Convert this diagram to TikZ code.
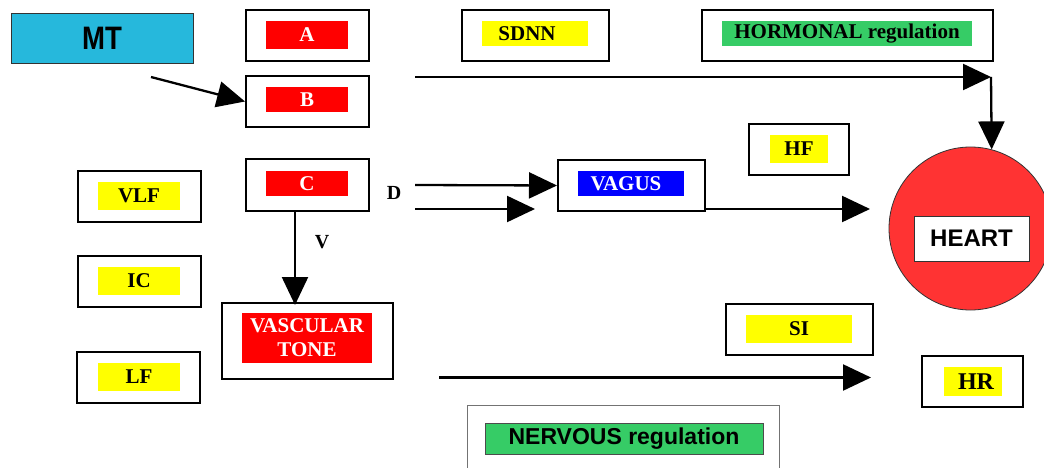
\documentclass[tikz,border=0pt]{standalone}
\usepackage{fontspec}
\setmainfont{Liberation Serif}
\newfontfamily\arialf{Liberation Sans}
\usetikzlibrary{arrows.meta}
\definecolor{mtcyan}{RGB}{38,184,220}
\definecolor{hgreen}{RGB}{54,204,102}
\definecolor{hred}{RGB}{255,51,51}
\definecolor{pred}{RGB}{255,0,0}
\definecolor{pyellow}{RGB}{255,255,0}
\definecolor{pblue}{RGB}{0,0,255}
\tikzset{
  ob/.style 2 args={draw=black, line width=2pt, inner sep=0pt, minimum width=#1, minimum height=#2},
  lab/.style 2 args={inner sep=0pt, minimum width=#1, minimum height=#2, font=\bfseries\fontsize{21}{24}\selectfont},
  redlab/.style 2 args={lab={#1}{#2}, fill=pred, text=white},
  yellab/.style 2 args={lab={#1}{#2}, fill=pyellow, text=black},
  arr/.style={line width=2.3pt, -{Triangle[length=28pt,width=26pt]}},
  plain/.style={font=\bfseries\fontsize{20}{24}\selectfont, inner sep=0pt}
}
\begin{document}
\begin{tikzpicture}[x=1pt,y=-1pt]
\clip (0,0) rectangle (1044,468);
\fill[white] (0,0) rectangle (1044,468);

% MT
\node[draw=black!80, line width=0.8pt, fill=mtcyan, minimum width=182pt, minimum height=50pt, inner sep=0pt,
      font=\arialf\bfseries\fontsize{29}{32}\selectfont] (MT) at (102,38) {\scalebox{0.95}[1.12]{MT}};

% outer boxes
\node[ob={123pt}{51pt}] (A) at (307.5,35.5) {};
\node[ob={123pt}{51pt}] (B) at (307.5,101.5) {};
\node[ob={123pt}{52pt}] (C) at (307.5,185) {};
\node[ob={147pt}{51pt}] (SDNN) at (535.5,35.5) {};
\node[ob={291pt}{51pt}] (HORM) at (847.5,35.5) {};
\node[ob={100pt}{51pt}] (HF) at (799,149.5) {};
\node[ob={147pt}{51pt}] (VAGUS) at (631.5,185.5) {};
\node[ob={123pt}{51pt}] (VLF) at (139.5,196.5) {};
\node[ob={123pt}{51pt}] (IC) at (139.5,281.5) {};
\node[ob={123pt}{51pt}] (LF) at (138.5,377.5) {};
\node[ob={171pt}{76pt}] (VASC) at (307.5,341) {};
\node[ob={147pt}{51pt}] (SI) at (799.5,329.5) {};
\node[ob={101pt}{51pt}] (HR) at (972.5,381.5) {};
\node[draw=black!55, line width=1pt, inner sep=0pt, minimum width=312pt, minimum height=90pt] (NERV) at (623,450) {};

% heart
\node[circle, draw=black!80, line width=0.8pt, fill=hred, minimum size=163pt, inner sep=0pt] (heart) at (970.5,228.5) {};
\node[draw=black!80, line width=0.8pt, fill=white, minimum width=115pt, minimum height=45pt, inner sep=0pt,
      font=\arialf\bfseries\fontsize{24}{28}\selectfont] (heartlab) at (971.5,238.5) {HEART};

% inner labels
\node[redlab={82pt}{28pt}] (Al) at (307,35) {A};
\node[redlab={82pt}{25pt}] (Bl) at (307,99.5) {B};
\node[redlab={82pt}{25pt}] (Cl) at (307,183.5) {C};
\node[yellab={106pt}{25pt}] (SDNNl) at (535,33.5) {\hspace*{-16pt}SDNN};
\node[lab={250pt}{25pt}, fill=hgreen] (HORMl) at (847,33.5) {HORMONAL regulation};
\node[yellab={58pt}{28pt}] (HFl) at (799,149) {HF};
\node[lab={106pt}{25pt}, fill=pblue, text=white] (VAGUSl) at (631,183.5) {\hspace*{-10pt}VAGUS};
\node[yellab={82pt}{28pt}] (VLFl) at (139,196) {VLF};
\node[yellab={82pt}{28pt}] (ICl) at (139,281) {IC};
\node[yellab={82pt}{28pt}] (LFl) at (139,377) {LF};
\node[redlab={130pt}{50pt}, align=center] (VASCl) at (307,338) {VASCULAR\\TONE};
\node[yellab={106pt}{28pt}] (SIl) at (799,329) {SI};
\node[yellab={58pt}{29pt}, font=\bfseries\fontsize{24}{28}\selectfont] (HRl) at (973,381.5) {\hspace*{6pt}HR};
\node[draw=black!70, line width=0.8pt, fill=hgreen, inner sep=0pt, minimum width=278pt, minimum height=31pt,
      font=\arialf\bfseries\fontsize{23}{26}\selectfont] (NERVl) at (624,438.5) {NERVOUS regulation};

% free labels
\node[plain] (Dl) at (394,193) {D};
\node[plain] (Vl) at (322,242) {V};

% connector end points
\coordinate (mtout) at (151,77);
\coordinate (h1) at (415,77);
\coordinate (h2) at (991,77);
\coordinate (d1) at (415,185);
\coordinate (d2a) at (415,209);
\coordinate (d2b) at (535,209);
\coordinate (v1) at (705,209);
\coordinate (v2) at (870,209);
\coordinate (c1) at (295,211);
\coordinate (c2) at (295,305);
\coordinate (l1) at (439,377.5);
\coordinate (l2) at (871,377.5);

% connectors
\draw[arr] (mtout) -- (B.west);
\draw[arr] (h1) -- (h2);
\draw[arr] (h2) -- (heart.75.4);
\draw[arr] (d1) -- (VAGUS.west);
\draw[arr] (d2a) -- (d2b);
\draw[arr] (v1) -- (v2);
\draw[arr] (c1) -- (c2);
\draw[arr] (l1) -- (l2);
\end{tikzpicture}
\end{document}
